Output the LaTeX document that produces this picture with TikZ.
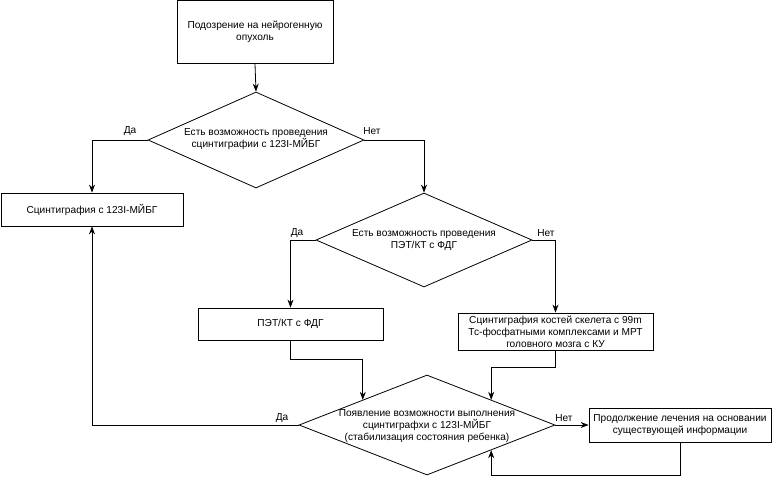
\documentclass[tikz,border=0pt]{standalone}
\usepackage{fontspec}
\setmainfont{Liberation Sans}
\usetikzlibrary{shapes.geometric,arrows.meta,calc}
\begin{document}
\begin{tikzpicture}[x=0.75pt,y=-0.75pt,
  font=\fontsize{7.6}{9}\selectfont,
  every path/.style={line width=0.6pt},
  box/.style={draw, rectangle, align=center, inner sep=0pt},
  dia/.style={draw, diamond, inner sep=0pt},
  txt/.style={align=center, inner sep=0pt},
  lbl/.style={inner sep=0pt},
  arr/.style={-{Stealth[length=6pt,width=4.5pt]}}]
\useasboundingbox (0,0) rectangle (772,483);

\node[box, minimum width={156*0.75pt}, minimum height={63*0.75pt}] (b1) at (255,32) {Подозрение на нейрогенную\\опухоль};
\node[box, minimum width={182*0.75pt}, minimum height={33*0.75pt}] (b2) at (92,209.5) {Сцинтиграфия с 123I-МЙБГ};
\node[box, minimum width={185*0.75pt}, minimum height={32*0.75pt}] (b3) at (290.5,324) {ПЭТ/КТ с ФДГ};
\node[box, minimum width={195*0.75pt}, minimum height={37*0.75pt}] (b4) at (555.5,331.5) {Сцинтиграфия костей скелета с 99m\\Тс-фосфатными комплексами и МРТ\\головного мозга с КУ};
\node[box, minimum width={182*0.75pt}, minimum height={34*0.75pt}] (b5) at (680,425) {Продолжение лечения на основании\\существующей информации};

\node[dia, minimum width={216*0.75pt}, minimum height={96*0.75pt}] (d1) at (256,140) {};
\node[txt] (t1) at (256,139) {Есть возможность проведения\\сцинтиграфии с 123I-МЙБГ};
\node[dia, minimum width={216*0.75pt}, minimum height={94*0.75pt}] (d2) at (424,240) {};
\node[txt] (t2) at (424,240) {Есть возможность проведения\\ПЭТ/КТ с ФДГ};
\node[dia, minimum width={256*0.75pt}, minimum height={100*0.75pt}] (d3) at (427,425) {};
\node[txt] (t3) at (427,426) {Появление возможности выполнения\\сцинтиграфхи с 123I-МЙБГ\\(стабилизация состояния ребенка)};

\draw[arr] (b1.south) -- (d1.north);
\draw[arr] (d1.west) -| (b2.north);
\draw[arr] (d1.east) -| (d2.north);
\draw[arr] (d2.west) -| (b3.north);
\draw[arr] (d2.east) -| (b4.north);
\draw[arr] (b3.south) -- ++(0,19) -| (d3.north west);
\draw[arr] (b4.south) -- ++(0,17) -| (d3.north east);
\draw[arr] (d3.west) -| (b2.south);
\draw[arr] (d3.east) -- (b5.west);
\draw[arr] (b5.south) -- ++(0,33) -| (d3.south east);

\node[lbl] (l1) at (130,131) {Да};
\node[lbl] (l2) at (372,131) {Нет};
\node[lbl] (l3) at (297,233) {Да};
\node[lbl] (l4) at (546,233) {Нет};
\node[lbl] (l5) at (282,418) {Да};
\node[lbl] (l6) at (564,418) {Нет};
\end{tikzpicture}
\end{document}
